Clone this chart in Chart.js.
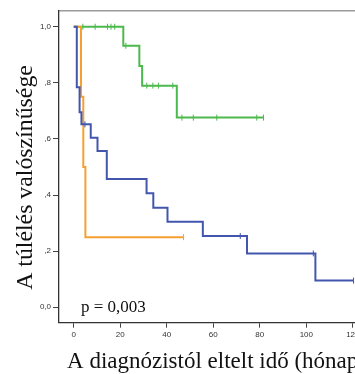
<!DOCTYPE html>
<html>
<head>
<meta charset="utf-8">
<script src="https://cdn.jsdelivr.net/npm/chart.js@4.4.1/dist/chart.umd.min.js"></script>
<style>
  html, body { margin: 0; padding: 0; overflow: hidden; background: #fff; }
  #wrap { width: 355px; height: 374px; overflow: hidden; }
</style>
</head>
<body>
<div id="wrap"><canvas id="km" width="380" height="374"></canvas></div>
<script>
// Kaplan-Meier curves (months, survival probability)
const blueTimes = [0, 1.3, 2.5, 3.3, 7.3, 10.2, 14.2, 31.3, 34.2, 40.3, 55.5, 74.5, 103.9, 120.3];
const blueSurv  = [1, 0.784, 0.695, 0.652, 0.604, 0.557, 0.457, 0.406, 0.355, 0.305, 0.254, 0.192, 0.095, 0.095];
const blueCensored = [4.8, 71.6, 103, 120.3];

const orangeTimes = [0, 3.1, 4.1, 5.0, 47.2];
const orangeSurv  = [1, 0.75, 0.5, 0.25, 0.25];
const orangeCensored = [47.2];

const greenTimes = [0, 21.3, 28.2, 29.4, 44.3, 81.6];
const greenSurv  = [1, 0.932, 0.86, 0.79, 0.676, 0.676];
const greenCensored = [3.9, 9.2, 14.5, 16.0, 17.6, 22.4, 31.4, 34.0, 36.4, 42.6, 46.5, 51.4, 61.5, 78.7, 81.6];

const xTicks = [0, 20, 40, 60, 80, 100, 120];
const yTicks = [0, 0.2, 0.4, 0.6, 0.8, 1.0];
const yTickLabels = ['0,0', ',2', ',4', ',6', ',8', '1,0'];

const xTitle = 'A diagnózistól eltelt idő (hónap)';
const yTitle = 'A túlélés valószínűsége';
const pText = 'p = 0,003';

const BLUE = '#4256ad';
const ORANGE = '#f6a032';
const GREEN = '#4cb94c';

function survAt(times, surv, t) {
  let s = surv[0];
  for (let i = 0; i < times.length; i++) if (times[i] <= t) s = surv[i];
  return s;
}

function curve(times, surv, color) {
  return {
    type: 'line', data: times.map((t, i) => ({ x: t, y: surv[i] })),
    borderColor: color, borderWidth: 2, pointRadius: 0, stepped: true, fill: false, xAxisID: 'x', yAxisID: 'y'
  };
}

function censors(times, surv, cens, color) {
  return {
    type: 'scatter', data: cens.map(t => ({ x: t, y: survAt(times, surv, t) })),
    showLine: false, pointStyle: 'line', rotation: 90, pointRadius: 3, borderWidth: 1,
    borderColor: color, backgroundColor: color, xAxisID: 'x', yAxisID: 'y'
  };
}

// p-value and the y axis title (placed a little below the plot's middle, as in the original)
const extraText = {
  id: 'extraText',
  afterDraw(chart) {
    const c = chart.ctx;
    c.save();
    c.fillStyle = '#111';
    c.font = '17px "Liberation Serif"';
    c.textAlign = 'left';
    c.textBaseline = 'middle';
    c.fillText(pText, chart.scales.x.getPixelForValue(3.1), chart.scales.y.getPixelForValue(0));
    c.translate(26, 177.5);
    c.rotate(-Math.PI / 2);
    c.font = '23.8px "Liberation Serif"';
    c.textAlign = 'center';
    c.fillText(yTitle, 0, 0);
    c.restore();
  }
};

const tickFont = { family: 'Liberation Sans', size: 8 };

new Chart(document.getElementById('km'), {
  type: 'line',
  data: {
    datasets: [
      censors(blueTimes, blueSurv, blueCensored, BLUE),
      curve(blueTimes, blueSurv, BLUE),
      censors(orangeTimes, orangeSurv, orangeCensored, ORANGE),
      curve(orangeTimes, orangeSurv, ORANGE),
      censors(greenTimes, greenSurv, greenCensored, GREEN),
      curve(greenTimes, greenSurv, GREEN)
    ]
  },
  options: {
    responsive: false,
    animation: false,
    layout: { padding: { top: 11, right: 6, left: 0, bottom: 0 } },
    plugins: { legend: { display: false }, tooltip: { enabled: false } },
    scales: {
      x: {
        type: 'linear', position: 'bottom', min: -6.35, max: 129.1,
        afterBuildTicks: s => { s.ticks = xTicks.map(v => ({ value: v })); },
        afterFit: s => { s.height = 51.3; },
        grid: { drawOnChartArea: false, tickLength: 5, color: '#444', lineWidth: 1 },
        border: { color: '#333', width: 1.3 },
        ticks: { font: tickFont, color: '#333', padding: 2, maxRotation: 0, autoSkip: false },
        title: { display: true, text: xTitle, color: '#111', font: { family: 'Liberation Serif', size: 23 }, padding: { top: 0, bottom: -1.5 } }
      },
      xTop: {
        type: 'linear', position: 'top', min: -6.35, max: 129.1,
        afterFit: s => { s.height = 0; },
        grid: { display: false },
        ticks: { display: false },
        border: { color: '#9a9a9a', width: 1.5 }
      },
      y: {
        type: 'linear', position: 'left', min: -0.055, max: 1.056,
        afterBuildTicks: s => { s.ticks = yTicks.map(v => ({ value: v })); },
        afterFit: s => { s.width = 59; },
        grid: { drawOnChartArea: false, tickLength: 6, color: '#444', lineWidth: 1 },
        border: { color: '#333', width: 1.3 },
        ticks: { font: tickFont, color: '#333', padding: 2, autoSkip: false, callback: (v, i) => yTickLabels[i] }
      }
    }
  },
  plugins: [extraText]
});
</script>
</body>
</html>
